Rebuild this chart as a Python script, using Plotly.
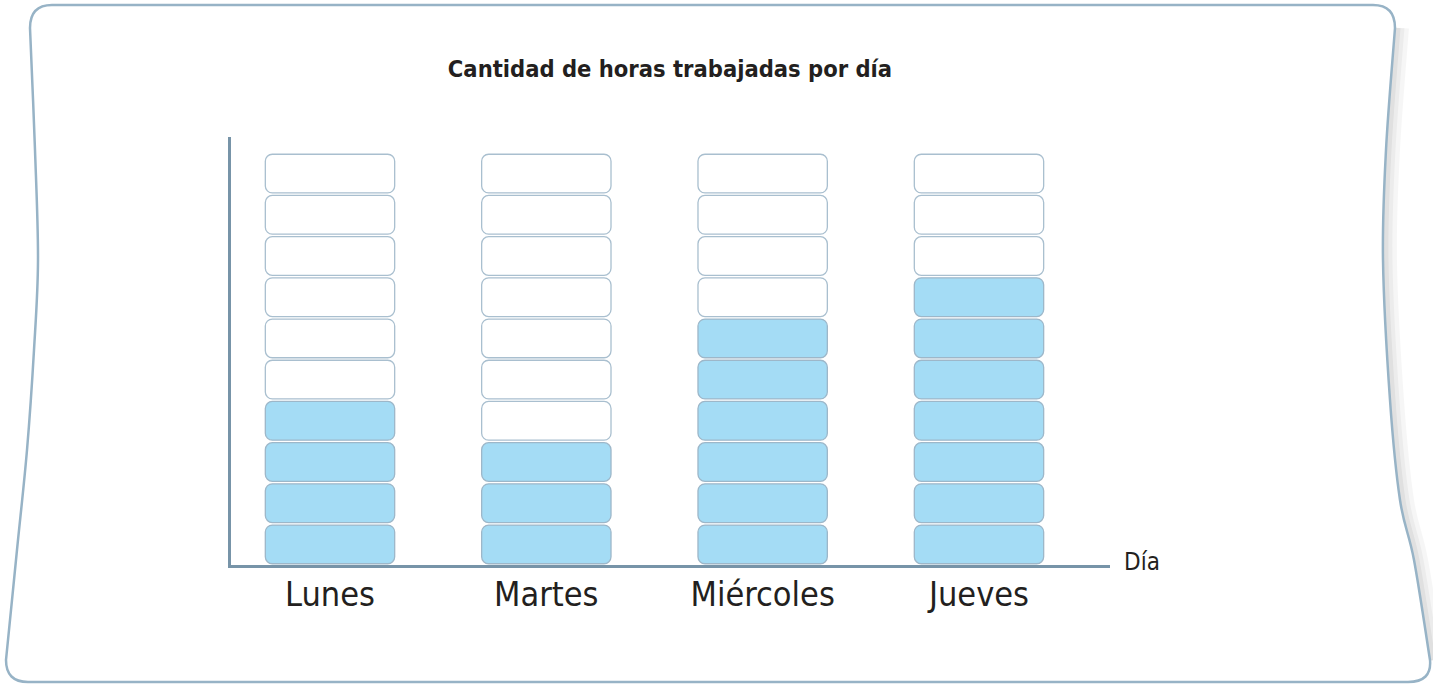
import plotly.graph_objects as go

# Hours worked per day, drawn as stacks of rounded cells out of a 10-hour scale
days = ["Lunes", "Martes", "Miércoles", "Jueves"]
hours = [4, 3, 6, 7]
max_hours = 10

title_text = "Cantidad de horas trabajadas por día"
axis_label = "Día"

# Figure geometry (pixels)
W, H = 1433, 684
ML, MR, MT, MB = 231, 323, 137, 119
PW, PH = W - ML - MR, H - MT - MB

FILL = "#A4DCF5"
FILL_LINE = "#9DB7C9"
EMPTY_LINE = "#A9BFCF"
AXIS = "#7794A8"
FRAME = "#97B3C6"
TEXT = "#231F20"
FONT = "Liberation Sans Narrow, DejaVu Sans Condensed, sans-serif"

GAP = 0.03
CELL_W = 0.598

# Build cells: one bar segment per hour slot
fx, fb, ex, eb = [], [], [], []
for d, h in zip(days, hours):
    for k in range(max_hours):
        if k < h:
            fx.append(d)
            fb.append(k + GAP)
        else:
            ex.append(d)
            eb.append(k + GAP)

fig = go.Figure()
fig.add_trace(go.Bar(
    x=ex, y=[1 - 2 * GAP] * len(ex), base=eb, width=CELL_W,
    marker=dict(color="white", line=dict(color=EMPTY_LINE, width=1.3), cornerradius=7),
    hoverinfo="skip", showlegend=False,
))
fig.add_trace(go.Bar(
    x=fx, y=[1 - 2 * GAP] * len(fx), base=fb, width=CELL_W,
    marker=dict(color=FILL, line=dict(color=FILL_LINE, width=1.3), cornerradius=7),
    hoverinfo="skip", showlegend=False,
))


# Decorative card frame, written in paper coordinates
def px(x):
    return (x - ML) / PW


def py(y):
    return (H - MB - y) / PH


def pt(p):
    return f"{px(p[0]):.5f},{py(p[1]):.5f}"


def smooth(points):
    """Catmull-Rom through points as cubic Bezier segments (skips the first M)."""
    out = []
    n = len(points)
    for i in range(n - 1):
        p0 = points[i - 1] if i > 0 else points[i]
        p1 = points[i]
        p2 = points[i + 1]
        p3 = points[i + 2] if i + 2 < n else points[i + 1]
        c1 = (p1[0] + (p2[0] - p0[0]) / 6, p1[1] + (p2[1] - p0[1]) / 6)
        c2 = (p2[0] - (p3[0] - p1[0]) / 6, p2[1] - (p3[1] - p1[1]) / 6)
        out.append(f"C{pt(c1)} {pt(c2)} {pt(p2)}")
    return " ".join(out)


right_edge = [(1395, 28), (1386, 150), (1383, 260), (1390, 400), (1400, 500), (1414, 560), (1430, 660)]
left_edge = [(6, 660), (17, 550), (27, 450), (34, 350), (38, 260), (35, 150), (30, 28)]

frame_path = (
    f"M{pt((52, 5))} L{pt((1373, 5))} Q{pt((1395, 5))} {pt(right_edge[0])} "
    + smooth(right_edge)
    + f" Q{pt((1432, 682))} {pt((1408, 682))} L{pt((28, 682))} Q{pt((6, 682))} {pt(left_edge[0])} "
    + smooth(left_edge)
    + f" Q{pt((30, 5))} {pt((52, 5))} Z"
)

shapes = []
# soft shadow along the right side
for off, wdt, op in [(7, 14, 0.035), (5, 9, 0.04), (3, 5, 0.05)]:
    shifted = [(x + off, y) for x, y in right_edge]
    shapes.append(dict(
        type="path", xref="paper", yref="paper", layer="below",
        path=f"M{pt(shifted[0])} " + smooth(shifted),
        line=dict(color=f"rgba(0,0,0,{op})", width=wdt),
    ))
shapes.append(dict(
    type="path", xref="paper", yref="paper", layer="below",
    path=frame_path, line=dict(color=FRAME, width=2.5), fillcolor="white",
))

fig.update_layout(
    width=W, height=H,
    margin=dict(l=ML, r=MR, t=MT, b=MB, pad=0),
    paper_bgcolor="white", plot_bgcolor="rgba(0,0,0,0)",
    barmode="overlay",
    shapes=shapes,
    title=dict(
        text=f"<b>{title_text}</b>",
        x=670 / W, xanchor="center", y=1 - 69 / H, yanchor="middle",
        font=dict(family=FONT, size=23.5, color=TEXT),
    ),
    xaxis=dict(
        type="category", categoryorder="array", categoryarray=days,
        range=[(ML - 330) / 216.33, (ML + PW - 330) / 216.33],
        showline=True, linecolor=AXIS, linewidth=3,
        showgrid=False, zeroline=False, ticks="",
        tickfont=dict(family=FONT, size=34, color=TEXT),
        ticklabelstandoff=-3,
        fixedrange=True,
    ),
    yaxis=dict(
        range=[0, PH / 41.2],
        showline=True, linecolor=AXIS, linewidth=3,
        showgrid=False, zeroline=False, showticklabels=False, ticks="",
        fixedrange=True,
    ),
    annotations=[dict(
        text=axis_label, xref="paper", yref="paper", x=1, y=0,
        xanchor="left", yanchor="middle", xshift=12, yshift=3, showarrow=False,
        font=dict(family=FONT, size=24, color=TEXT),
    )],
)

fig.write_html("out.html", config={"displayModeBar": False})
